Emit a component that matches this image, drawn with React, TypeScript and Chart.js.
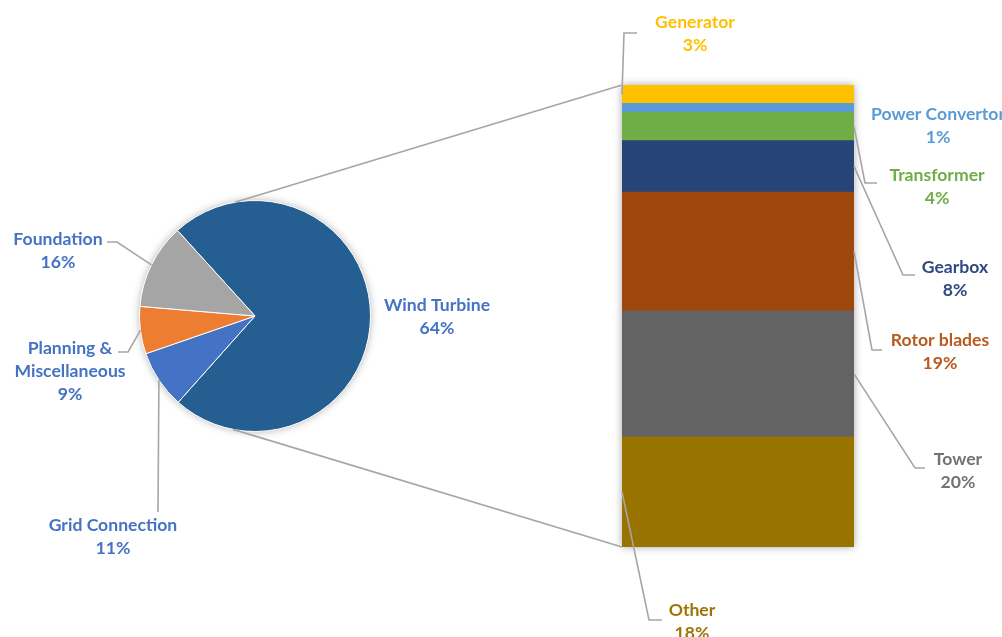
import React, { useEffect, useRef } from "react";
import { Chart, registerables } from "chart.js";

Chart.register(...registerables);

// ---------- DATA ----------
// Pie (drawn clockwise starting with Wind Turbine)
const pieCategories = ["Wind Turbine", "Grid Connection", "Planning & Miscellaneous", "Foundation"];
const pieLabelText = [["Wind Turbine"], ["Grid Connection"], ["Planning &", "Miscellaneous"], ["Foundation"]];
const pieLabelPercents = [64, 11, 9, 16];
// slice sizes as they appear in the picture (Wind Turbine slice = bar total)
const pieSliceValues = [73, 8.1, 6.6, 11.9];
const pieColors = ["#255E91", "#4472C4", "#ED7D31", "#A5A5A5"];
const pieTextColors = ["#4472C4", "#4472C4", "#4472C4", "#4472C4"];

// Stacked bar (bottom to top)
const barCategories = ["Other", "Tower", "Rotor blades", "Gearbox", "Transformer", "Power Convertor", "Generator"];
const barLabelPercents = [18, 20, 19, 8, 4, 1, 3];
// segment sizes as they appear in the picture
const barSegmentValues = [17.4, 19.9, 18.8, 8.1, 4.5, 1.4, 2.9];
const barColors = ["#997300", "#636363", "#9E480E", "#264478", "#70AD47", "#5B9BD5", "#FFC000"];
const barTextColors = ["#9C7505", "#737373", "#B85A1E", "#2E4A80", "#70AD47", "#5B9BD5", "#FFC000"];

// ---------- LAYOUT (positions / styles only) ----------
const W = 1002;
const H = 637;
const FONT = "bold 17.6px Lato";
const LINE_H = 23;
const LEADER = "#A6A6A6";

type Pt = { x: number; y: number };
type LabelLayout = { cx: number; y0: number; leader: Pt[] | null; side?: "left" | "right" };

const pieLabelLayout: LabelLayout[] = [
  { cx: 437, y0: 305, leader: null },
  { cx: 113, y0: 525, leader: [{ x: 158, y: 512 }] },
  { cx: 70, y0: 348, leader: [{ x: 128, y: 352 }, { x: 118, y: 352 }] },
  { cx: 58, y0: 239, leader: [{ x: 117, y: 242 }, { x: 107, y: 242 }] },
];

const barLabelLayout: LabelLayout[] = [
  { cx: 692, y0: 610, side: "left", leader: [{ x: 649, y: 620 }, { x: 662, y: 620 }] },
  { cx: 958, y0: 459, side: "right", leader: [{ x: 915, y: 468 }, { x: 925, y: 468 }] },
  { cx: 940, y0: 340, side: "right", leader: [{ x: 872, y: 350 }, { x: 882, y: 350 }] },
  { cx: 955, y0: 267, side: "right", leader: [{ x: 903, y: 275 }, { x: 915, y: 275 }] },
  { cx: 937, y0: 175, side: "right", leader: [{ x: 865, y: 183 }, { x: 877, y: 183 }] },
  { cx: 938, y0: 114, side: "right", leader: null },
  { cx: 695, y0: 22, side: "left", leader: [{ x: 624, y: 33 }, { x: 637, y: 33 }] },
];

const CONNECT_TOP_DEG = -100;
const CONNECT_BOTTOM_DEG = 101;

function drawLabel(ctx: CanvasRenderingContext2D, lines: string[], cx: number, y0: number, color: string) {
  ctx.save();
  ctx.font = FONT;
  ctx.fillStyle = color;
  ctx.textAlign = "center";
  ctx.textBaseline = "middle";
  lines.forEach((t, i) => ctx.fillText(t, cx, y0 + i * LINE_H));
  ctx.restore();
}

function drawPolyline(ctx: CanvasRenderingContext2D, pts: Pt[]) {
  ctx.save();
  ctx.strokeStyle = LEADER;
  ctx.lineWidth = 1.6;
  ctx.lineJoin = "miter";
  ctx.beginPath();
  pts.forEach((p, i) => (i === 0 ? ctx.moveTo(p.x, p.y) : ctx.lineTo(p.x, p.y)));
  ctx.stroke();
  ctx.restore();
}

export default function App() {
  const pieRef = useRef<HTMLCanvasElement | null>(null);
  const barRef = useRef<HTMLCanvasElement | null>(null);

  useEffect(() => {
    if (!pieRef.current || !barRef.current) return;

    const pieShadow = {
      id: "pieShadow",
      beforeDatasetsDraw(chart: any) {
        const arc = chart.getDatasetMeta(0).data[0] as any;
        if (!arc) return;
        const ctx = chart.ctx as CanvasRenderingContext2D;
        ctx.save();
        ctx.shadowColor = "rgba(0,0,0,0.35)";
        ctx.shadowBlur = 8;
        ctx.fillStyle = "#ffffff";
        ctx.beginPath();
        ctx.arc(arc.x, arc.y, arc.outerRadius - 0.5, 0, Math.PI * 2);
        ctx.fill();
        ctx.restore();
      },
    };

    const pie = new Chart(pieRef.current, {
      type: "pie",
      data: {
        labels: pieCategories,
        datasets: [
          {
            data: pieSliceValues,
            backgroundColor: pieColors,
            borderColor: "#ffffff",
            borderWidth: 1,
          },
        ],
      },
      options: {
        responsive: false,
        animation: false,
        devicePixelRatio: 1,
        rotation: -42.2,
        layout: { padding: { left: 139, right: W - 371, top: 200, bottom: H - 432 } },
        plugins: { legend: { display: false }, tooltip: { enabled: false } },
        events: [],
      },
      plugins: [pieShadow],
    });

    const overlay = {
      id: "overlay",
      beforeDatasetsDraw(chart: any) {
        const ctx = chart.ctx as CanvasRenderingContext2D;
        const els = chart.data.datasets.map((_: any, i: number) => chart.getDatasetMeta(i).data[0]);
        const first = els[0] as any;
        const last = els[els.length - 1] as any;
        const left = first.x - first.width / 2;
        const right = first.x + first.width / 2;
        const top = Math.min(last.y, last.base);
        const bottom = Math.max(first.y, first.base);
        ctx.save();
        ctx.shadowColor = "rgba(0,0,0,0.35)";
        ctx.shadowBlur = 8;
        ctx.fillStyle = "#ffffff";
        ctx.fillRect(left, top, right - left, bottom - top);
        ctx.restore();
      },
      afterDatasetsDraw(chart: any) {
        const ctx = chart.ctx as CanvasRenderingContext2D;
        const els = chart.data.datasets.map((_: any, i: number) => chart.getDatasetMeta(i).data[0] as any);
        const first = els[0];
        const last = els[els.length - 1];
        const left = first.x - first.width / 2;
        const right = first.x + first.width / 2;
        const top = Math.min(last.y, last.base);
        const bottom = Math.max(first.y, first.base);

        // connectors pie -> bar
        const pieArcs = pie.getDatasetMeta(0).data as any[];
        const a0 = pieArcs[0];
        const r = a0.outerRadius;
        const tRad = (CONNECT_TOP_DEG * Math.PI) / 180;
        const bRad = (CONNECT_BOTTOM_DEG * Math.PI) / 180;
        drawPolyline(ctx, [
          { x: a0.x + r * Math.cos(tRad), y: a0.y + r * Math.sin(tRad) },
          { x: left, y: top },
        ]);
        drawPolyline(ctx, [
          { x: a0.x + r * Math.cos(bRad), y: a0.y + r * Math.sin(bRad) },
          { x: left, y: bottom },
        ]);

        // pie labels
        pieArcs.forEach((arc, i) => {
          const lay = pieLabelLayout[i];
          if (lay.leader) {
            const mid = (arc.startAngle + arc.endAngle) / 2;
            const anchor = { x: arc.x + arc.outerRadius * Math.cos(mid), y: arc.y + arc.outerRadius * Math.sin(mid) };
            drawPolyline(ctx, [anchor, ...lay.leader]);
          }
          drawLabel(ctx, [...pieLabelText[i], pieLabelPercents[i] + "%"], lay.cx, lay.y0, pieTextColors[i]);
        });

        // bar labels
        els.forEach((el: any, i: number) => {
          const lay = barLabelLayout[i];
          if (lay.leader) {
            const midY = (el.y + el.base) / 2;
            const ax = lay.side === "left" ? left : right;
            drawPolyline(ctx, [{ x: ax, y: midY }, ...lay.leader]);
          }
          drawLabel(ctx, [barCategories[i], barLabelPercents[i] + "%"], lay.cx, lay.y0, barTextColors[i]);
        });
      },
    };

    const barTotal = barSegmentValues.reduce((a, b) => a + b, 0);

    const bar = new Chart(barRef.current, {
      type: "bar",
      data: {
        labels: [""],
        datasets: barCategories.map((name, i) => ({
          label: name,
          data: [barSegmentValues[i]],
          backgroundColor: barColors[i],
          borderWidth: 0,
          barPercentage: 1,
          categoryPercentage: 1,
          stack: "s",
        })),
      },
      options: {
        responsive: false,
        animation: false,
        devicePixelRatio: 1,
        layout: { padding: { left: 622, right: W - 854, top: 85, bottom: H - 547 } },
        scales: {
          x: { stacked: true, display: false },
          y: { stacked: true, display: false, min: 0, max: barTotal },
        },
        plugins: { legend: { display: false }, tooltip: { enabled: false } },
        events: [],
      },
      plugins: [overlay],
    });

    return () => {
      bar.destroy();
      pie.destroy();
    };
  }, []);

  return (
    <div style={{ position: "absolute", left: 0, top: 0, width: W, height: H, background: "#ffffff", overflow: "hidden" }}>
      <canvas ref={pieRef} width={W} height={H} style={{ position: "absolute", left: 0, top: 0, width: W, height: H }} />
      <canvas ref={barRef} width={W} height={H} style={{ position: "absolute", left: 0, top: 0, width: W, height: H }} />
    </div>
  );
}
